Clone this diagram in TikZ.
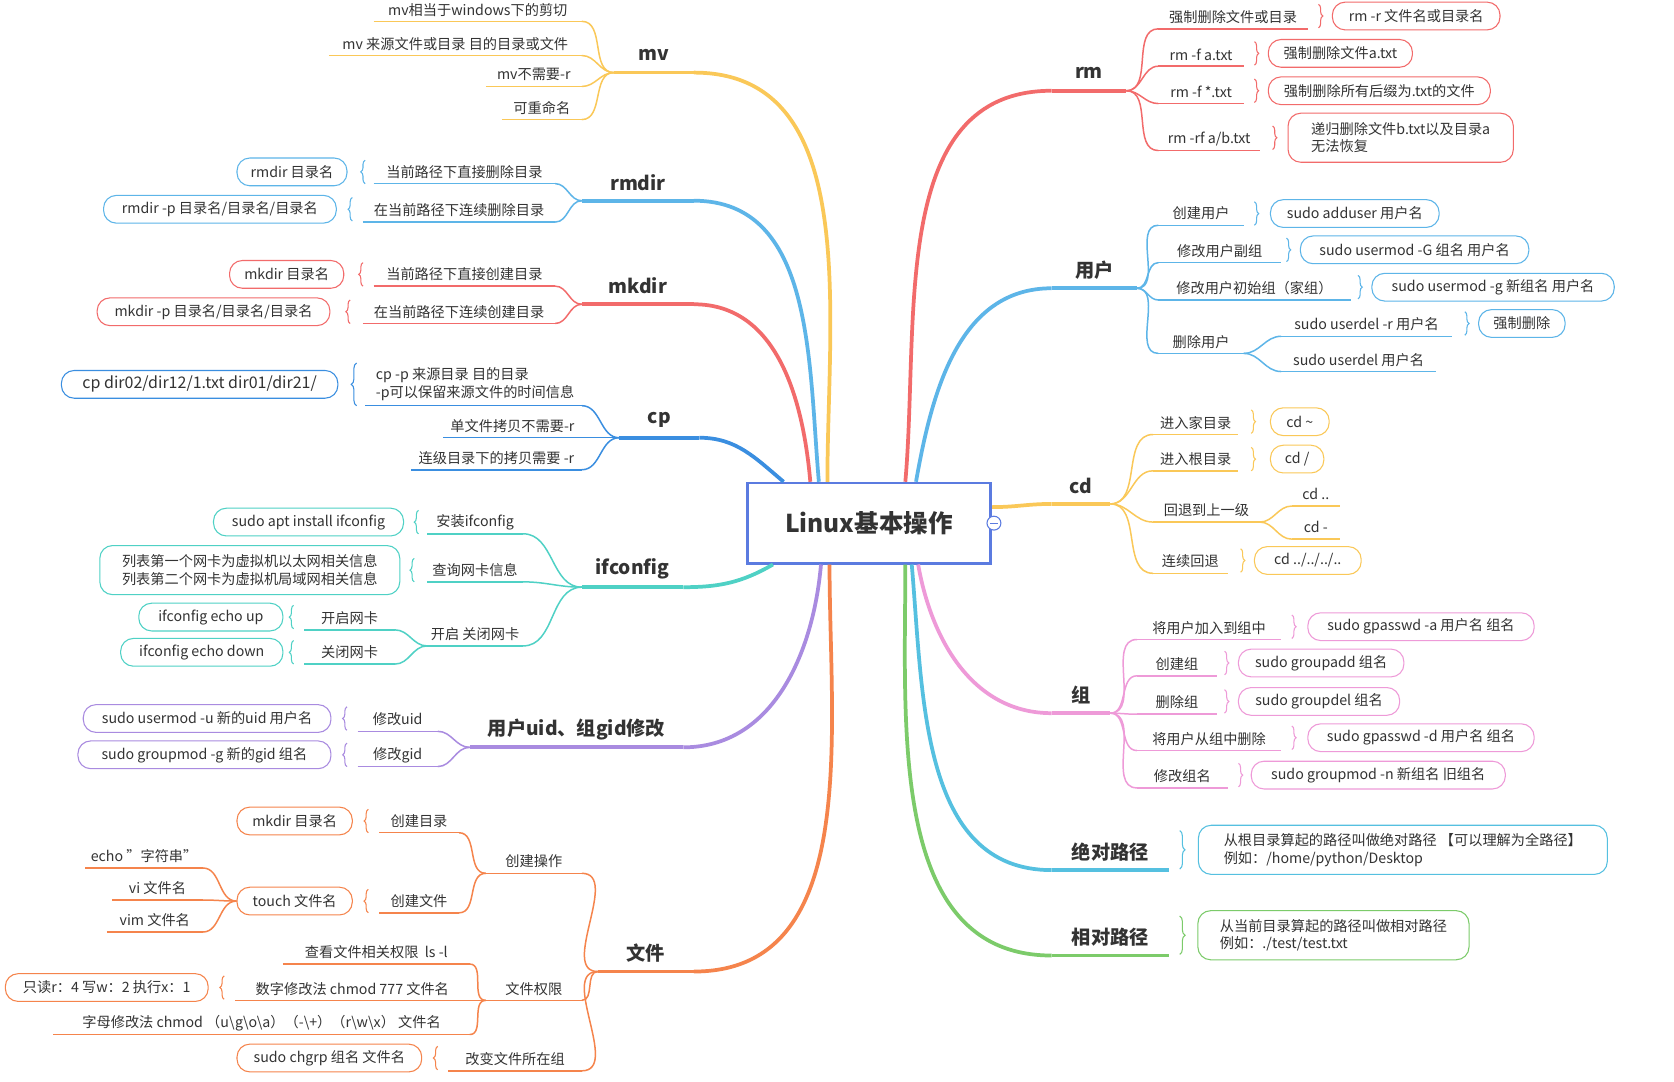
\documentclass[tikz,border=0pt]{standalone}
\usepackage{fontspec}
\setmainfont{Noto Sans CJK SC}
\usetikzlibrary{decorations.pathreplacing}
\definecolor{cY}{HTML}{FAC858}
\definecolor{cB}{HTML}{5DB5E8}
\definecolor{cR}{HTML}{F26B6B}
\definecolor{cCp}{HTML}{3A8EE0}
\definecolor{cT}{HTML}{4FD1C5}
\definecolor{cP}{HTML}{A98BE0}
\definecolor{cO}{HTML}{F5844C}
\definecolor{cPk}{HTML}{EE9AD8}
\definecolor{cCy}{HTML}{55C0E0}
\definecolor{cG}{HTML}{7CCB6A}
\definecolor{cRoot}{HTML}{5B7BE0}
\definecolor{txt}{HTML}{333333}
\tikzset{
 small/.style={font=\fontsize{13.3}{16.5}\selectfont,text=txt,inner sep=1pt},
 big/.style={font=\fontsize{18}{22}\selectfont\bfseries,text=txt,inner sep=1pt},
 boxs/.style={draw=#1,fill=white,rounded corners=12pt,line width=1pt,font=\fontsize{13.3}{16.5}\selectfont,text=txt,inner sep=3pt,minimum height=26pt},
 sub/.style={draw=#1,line width=1.4pt},
 mainc/.style={draw=#1,line width=3.5pt},
}
\newcommand\tl[6]{\node[small] (#1) at ({(#3+#4)/2},#5-11) {#6};
 \coordinate (#1-l) at (#3,#5); \coordinate (#1-r) at (#4,#5);
 \draw[sub=#2] (#1-l)--(#1-r);}
\newcommand\ml[6]{\node[big] (#1) at ({(#3+#4)/2},#5-17) {#6};
 \coordinate (#1-l) at (#3,#5); \coordinate (#1-r) at (#4,#5);
 \draw[mainc=#2] (#1-l)--(#1-r);}
\newcommand\bx[6]{\node[boxs=#2,minimum width={#4-#3}] (#1) at ({(#3+#4)/2},#5) {#6};}
\newcommand\cL[3]{\draw[sub=#1] (#2) to[out=180,in=0] (#3);}
\newcommand\cR[3]{\draw[sub=#1] (#2) to[out=0,in=180] (#3);}
\newcommand\brR[3]{\draw[#1,line width=1pt,decorate,decoration={brace,amplitude=4pt}] (#2,#3-11) -- (#2,#3+11);}
\newcommand\brL[3]{\draw[#1,line width=1pt,decorate,decoration={brace,amplitude=4pt}] (#2,#3+11) -- (#2,#3-11);}
\begin{document}
\begin{tikzpicture}[x=1pt,y=-1pt]
\useasboundingbox[fill=white] (0,0) rectangle (1568,1013);
% root
\node[draw=cRoot,line width=2.5pt,fill=white,minimum width=228pt,minimum height=75pt,font=\fontsize{23}{28}\selectfont\bfseries,text=txt] (root) at (814,490) {Linux基本操作};
% main labels
\ml{mv}{cY}{575}{650}{68}{mv}
\ml{rmdir}{cB}{545}{650}{188}{rmdir}
\ml{mkdir}{cR}{545}{650}{285}{mkdir}
\ml{cp}{cCp}{580}{655}{410}{cp}
\ml{ifc}{cT}{545}{640}{550}{ifconfig}
\ml{uid}{cP}{440}{640}{700}{用户uid、组gid修改}
\ml{wj}{cO}{560}{650}{910}{文件}
\ml{rm}{cR}{985}{1055}{85}{rm}
\ml{yh}{cB}{985}{1065}{270}{用户}
\ml{cd}{cY}{985}{1040}{472}{cd}
\ml{zu}{cPk}{985}{1040}{668}{组}
\ml{jd}{cCy}{985}{1095}{815}{绝对路径}
\ml{xd}{cG}{985}{1095}{895}{相对路径}
% main connectors
\draw[mainc=cY] ([xshift=-39pt]root.north) to[out=90,in=0] (mv-r);
\draw[mainc=cB] ([xshift=-47pt]root.north) to[out=95,in=0] (rmdir-r);
\draw[mainc=cR] ([xshift=-55pt]root.north) to[out=95,in=0] (mkdir-r);
\draw[mainc=cCp] ([xshift=-80pt]root.north) to[out=140,in=0] (cp-r);
\draw[mainc=cT] ([xshift=-90pt]root.south) to[out=-150,in=0] (ifc-r);
\draw[mainc=cP] ([xshift=-45pt]root.south) to[out=-95,in=0] (uid-r);
\draw[mainc=cO] ([xshift=-37pt]root.south) to[out=-90,in=0] (wj-r);
\draw[mainc=cR] ([xshift=34pt]root.north) to[out=85,in=180] (rm-l);
\draw[mainc=cB] ([xshift=44pt]root.north) to[out=80,in=180] (yh-l);
\draw[mainc=cY] ([yshift=15pt]root.east) to[out=0,in=180] (cd-l);
\draw[mainc=cPk] ([xshift=46pt]root.south) to[out=-80,in=180] (zu-l);
\draw[mainc=cCy] ([xshift=40pt]root.south) to[out=-85,in=180] (jd-l);
\draw[mainc=cG] ([xshift=34pt]root.south) to[out=-90,in=180] (xd-l);
\draw[cRoot,fill=white,line width=1pt] (931,490) circle (6.5pt);
\draw[cRoot,line width=1pt] (927.5,490)--(934.5,490);
% mv
\tl{mv1}{cY}{350}{545}{20}{mv相当于windows下的剪切}
\tl{mv2}{cY}{308}{545}{52}{mv 来源文件或目录 目的目录或文件}
\tl{mv3}{cY}{455}{545}{81}{mv不需要-r}
\tl{mv4}{cY}{470}{545}{112}{可重命名}
\cL{cY}{mv-l}{mv1-r}\cL{cY}{mv-l}{mv2-r}\cL{cY}{mv-l}{mv3-r}\cL{cY}{mv-l}{mv4-r}
% rmdir
\tl{rd1}{cB}{350}{520}{172}{当前路径下直接删除目录}
\tl{rd2}{cB}{340}{520}{208}{在当前路径下连续删除目录}
\cL{cB}{rmdir-l}{rd1-r}\cL{cB}{rmdir-l}{rd2-r}
\brL{cB}{342}{161}\bx{rdb1}{cB}{222}{325}{161}{rmdir 目录名}
\brL{cB}{330}{196}\bx{rdb2}{cB}{97}{315}{196}{rmdir -p 目录名/目录名/目录名}
% mkdir
\tl{md1}{cR}{350}{520}{268}{当前路径下直接创建目录}
\tl{md2}{cR}{340}{520}{303}{在当前路径下连续创建目录}
\cL{cR}{mkdir-l}{md1-r}\cL{cR}{mkdir-l}{md2-r}
\brL{cR}{340}{257}\bx{mdb1}{cR}{215}{322}{257}{mkdir 目录名}
\brL{cR}{328}{292}\bx{mdb2}{cR}{91}{309}{292}{mkdir -p 目录名/目录名/目录名}
% cp
\node[small,align=left] (cp1) at (445,360) {cp -p 来源目录 目的目录\\-p可以保留来源文件的时间信息};
\coordinate (cp1-l) at (342,380); \coordinate (cp1-r) at (545,380);
\draw[sub=cCp] (cp1-l)--(cp1-r);
\tl{cp2}{cCp}{415}{545}{410}{单文件拷贝不需要-r}
\tl{cp3}{cCp}{385}{545}{440}{连级目录下的拷贝需要 -r}
\cL{cCp}{cp-l}{cp1-r}\cL{cCp}{cp-l}{cp2-r}\cL{cCp}{cp-l}{cp3-r}
\draw[cCp,line width=1pt,decorate,decoration={brace,amplitude=5pt}] (334,380) -- (334,340);
\node[boxs=cCp,minimum width=259pt,font=\fontsize{15}{18}\selectfont] (cpb) at (187,360) {cp dir02/dir12/1.txt dir01/dir21/};
% ifconfig
\tl{if1}{cT}{400}{490}{500}{安装ifconfig}
\tl{if2}{cT}{400}{490}{545}{查询网卡信息}
\tl{if3}{cT}{400}{490}{605}{开启 关闭网卡}
\cL{cT}{ifc-l}{if1-r}\cL{cT}{ifc-l}{if2-r}\cL{cT}{ifc-l}{if3-r}
\brL{cT}{392}{489}\bx{ifb1}{cT}{200}{378}{489}{sudo apt install ifconfig}
\brL{cT}{388}{534}\node[boxs=cT,minimum width=281pt,align=left,minimum height=46pt] (ifb2) at (234,534) {列表第一个网卡为虚拟机以太网相关信息\\列表第二个网卡为虚拟机局域网相关信息};
\tl{if31}{cT}{285}{370}{590}{开启网卡}
\tl{if32}{cT}{285}{370}{622}{关闭网卡}
\cL{cT}{if3-l}{if31-r}\cL{cT}{if3-l}{if32-r}
\brL{cT}{275}{578}\bx{ifb3}{cT}{130}{265}{578}{ifconfig echo up}
\brL{cT}{275}{611}\bx{ifb4}{cT}{113}{265}{611}{ifconfig echo down}
% uid
\tl{u1}{cP}{335}{410}{685}{修改uid}
\tl{u2}{cP}{335}{410}{718}{修改gid}
\cL{cP}{uid-l}{u1-r}\cL{cP}{uid-l}{u2-r}
\brL{cP}{325}{673}\bx{ub1}{cP}{78}{310}{673}{sudo usermod -u 新的uid 用户名}
\brL{cP}{325}{707}\bx{ub2}{cP}{73}{310}{707}{sudo groupmod -g  新的gid 组名}
% wenjian
\tl{w1}{cO}{455}{545}{818}{创建操作}
\tl{w2}{cO}{455}{545}{937}{文件权限}
\tl{w3}{cO}{420}{545}{1003}{改变文件所在组}
\cL{cO}{wj-l}{w1-r}\cL{cO}{wj-l}{w2-r}\cL{cO}{wj-l}{w3-r}
\tl{w11}{cO}{355}{430}{780}{创建目录}
\tl{w12}{cO}{355}{430}{855}{创建文件}
\cL{cO}{w1-l}{w11-r}\cL{cO}{w1-l}{w12-r}
\brL{cO}{345}{769}\bx{wb1}{cO}{222}{330}{769}{mkdir 目录名}
\brL{cO}{345}{844}\bx{wb2}{cO}{222}{330}{844}{touch 文件名}
\tl{t1}{cO}{80}{190}{813}{echo "字符串"}
\tl{t2}{cO}{105}{190}{843}{vi 文件名}
\tl{t3}{cO}{100}{190}{873}{vim 文件名}
\cL{cO}{wb2.west}{t1-r}\cL{cO}{wb2.west}{t2-r}\cL{cO}{wb2.west}{t3-r}
\tl{w21}{cO}{265}{440}{903}{查看文件相关权限\ \ ls -l}
\tl{w22}{cO}{220}{440}{937}{数字修改法 chmod 777 文件名}
\tl{w23}{cO}{50}{440}{969}{字母修改法 chmod （u\textbackslash g\textbackslash o\textbackslash a）（-\textbackslash +）（r\textbackslash w\textbackslash x） 文件名}
\cL{cO}{w2-l}{w21-r}\cL{cO}{w2-l}{w22-r}\cL{cO}{w2-l}{w23-r}
\brL{cO}{210}{925}\bx{wb3}{cO}{5}{195}{925}{只读r：4 写w：2 执行x：1}
\brL{cO}{410}{991}\bx{wb4}{cO}{222}{395}{991}{sudo chgrp 组名 文件名}
% rm
\tl{r1}{cR}{1085}{1225}{27}{强制删除文件或目录}
\tl{r2}{cR}{1085}{1165}{62}{rm -f a.txt}
\tl{r3}{cR}{1085}{1165}{97}{rm -f *.txt}
\tl{r4}{cR}{1085}{1180}{141}{rm -rf a/b.txt}
\cR{cR}{rm-r}{r1-l}\cR{cR}{rm-r}{r2-l}\cR{cR}{rm-r}{r3-l}\cR{cR}{rm-r}{r4-l}
\brR{cR}{1235}{15}\bx{rb1}{cR}{1248}{1405}{15}{rm -r 文件名或目录名}
\brR{cR}{1175}{50}\bx{rb2}{cR}{1188}{1323}{50}{强制删除文件a.txt}
\brR{cR}{1175}{85}\bx{rb3}{cR}{1188}{1396}{85}{强制删除所有后缀为.txt的文件}
\brR{cR}{1192}{129}\node[boxs=cR,minimum width=211pt,minimum height=46pt,align=left] (rb4) at (1312,129) {递归删除文件b.txt以及目录a\\无法恢复};
% yonghu
\tl{y1}{cB}{1085}{1165}{211}{创建用户}
\tl{y2}{cB}{1085}{1200}{246}{修改用户副组}
\tl{y3}{cB}{1085}{1265}{281}{修改用户初始组（家组）}
\tl{y4}{cB}{1085}{1165}{331}{删除用户}
\cR{cB}{yh-r}{y1-l}\cR{cB}{yh-r}{y2-l}\cR{cB}{yh-r}{y3-l}\cR{cB}{yh-r}{y4-l}
\brR{cB}{1175}{200}\bx{yb1}{cB}{1190}{1348}{200}{sudo adduser 用户名}
\brR{cB}{1205}{234}\bx{yb2}{cB}{1218}{1432}{234}{sudo usermod -G 组名 用户名}
\brR{cB}{1272}{269}\bx{yb3}{cB}{1285}{1512}{269}{sudo usermod -g 新组名 用户名}
\tl{y41}{cB}{1200}{1360}{315}{sudo userdel -r 用户名}
\tl{y42}{cB}{1200}{1345}{348}{sudo userdel 用户名}
\cR{cB}{y4-r}{y41-l}\cR{cB}{y4-r}{y42-l}
\brR{cB}{1372}{303}\bx{yb4}{cB}{1385}{1466}{303}{强制删除}
% cd
\tl{d1}{cY}{1080}{1160}{407}{进入家目录}
\tl{d2}{cY}{1080}{1160}{441}{进入根目录}
\tl{d3}{cY}{1080}{1180}{489}{回退到上一级}
\tl{d4}{cY}{1080}{1150}{537}{连续回退}
\cR{cY}{cd-r}{d1-l}\cR{cY}{cd-r}{d2-l}\cR{cY}{cd-r}{d3-l}\cR{cY}{cd-r}{d4-l}
\brR{cY}{1172}{395}\bx{db1}{cY}{1190}{1245}{395}{cd \textasciitilde}
\brR{cY}{1172}{430}\bx{db2}{cY}{1190}{1240}{430}{cd /}
\tl{d31}{cY}{1210}{1255}{474}{cd ..}
\tl{d32}{cY}{1210}{1255}{505}{cd -}
\cR{cY}{d3-r}{d31-l}\cR{cY}{d3-r}{d32-l}
\brR{cY}{1162}{525}\bx{db4}{cY}{1175}{1275}{525}{cd ../../../..}
% zu
\tl{z1}{cPk}{1065}{1200}{599}{将用户加入到组中}
\tl{z2}{cPk}{1065}{1140}{633}{创建组}
\tl{z3}{cPk}{1065}{1140}{669}{删除组}
\tl{z4}{cPk}{1065}{1200}{703}{将用户从组中删除}
\tl{z5}{cPk}{1065}{1150}{738}{修改组名}
\cR{cPk}{zu-r}{z1-l}\cR{cPk}{zu-r}{z2-l}\cR{cPk}{zu-r}{z3-l}\cR{cPk}{zu-r}{z4-l}\cR{cPk}{zu-r}{z5-l}
\brR{cPk}{1210}{587}\bx{zb1}{cPk}{1225}{1437}{587}{sudo gpasswd -a 用户名 组名}
\brR{cPk}{1147}{621}\bx{zb2}{cPk}{1160}{1315}{621}{sudo groupadd 组名}
\brR{cPk}{1147}{657}\bx{zb3}{cPk}{1160}{1311}{657}{sudo groupdel 组名}
\brR{cPk}{1210}{691}\bx{zb4}{cPk}{1225}{1437}{691}{sudo gpasswd -d 用户名 组名}
\brR{cPk}{1160}{726}\bx{zb5}{cPk}{1172}{1410}{726}{sudo groupmod -n 新组名 旧组名}
% paths
\draw[cCy,line width=1pt,decorate,decoration={brace,amplitude=5pt}] (1105,778) -- (1105,814);
\node[boxs=cCy,minimum width=383pt,minimum height=46pt,align=left] (jb) at (1314,796) {从根目录算起的路径叫做绝对路径 【可以理解为全路径】\\例如：/home/python/Desktop};
\draw[cG,line width=1pt,decorate,decoration={brace,amplitude=5pt}] (1105,858) -- (1105,894);
\node[boxs=cG,minimum width=254pt,minimum height=46pt,align=left] (xb) at (1249,876) {从当前目录算起的路径叫做相对路径\\例如：./test/test.txt};
\end{tikzpicture}
\end{document}
